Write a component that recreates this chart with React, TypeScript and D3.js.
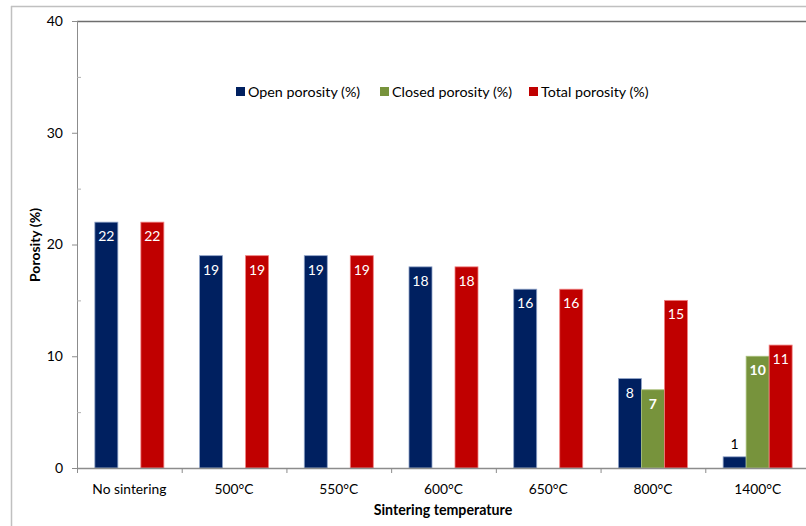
import React from "react";
import * as d3 from "d3";

const categories = ["No sintering", "500°C", "550°C", "600°C", "650°C", "800°C", "1400°C"];
const openPorosity: (number | null)[] = [22, 19, 19, 18, 16, 8, 1];
const closedPorosity: (number | null)[] = [null, null, null, null, null, 7, 10];
const totalPorosity: (number | null)[] = [22, 19, 19, 18, 16, 15, 11];
const seriesNames = ["Open porosity (%)", "Closed porosity (%)", "Total porosity (%)"];
const seriesColors = ["#002060", "#77933C", "#C00000"];
const seriesStrokes = ["#8fa3c8", "#a9c07a", "#f08080"];
const seriesBold = [false, true, false];
const yTicks = [0, 10, 20, 30, 40];

const W = 806;
const H = 526;
const left = 77;
const top = 21;
const bottom = 468;
const right = 810;

export default function App() {
  const seriesValues = [openPorosity, closedPorosity, totalPorosity];
  const x = d3.scaleBand<string>().domain(categories).range([left, right]).paddingInner(0).paddingOuter(0);
  const xs = d3
    .scaleBand<string>()
    .domain(seriesNames)
    .range([0, x.bandwidth()])
    .paddingInner(0)
    .paddingOuter(0.776);
  const y = d3.scaleLinear().domain([0, 40]).range([bottom, top]);
  const minorTicks = d3.range(5, 40, 10);
  const font = "Lato, 'Open Sans', sans-serif";

  const legendItems = [
    { x: 236, name: seriesNames[0], color: seriesColors[0] },
    { x: 380, name: seriesNames[1], color: seriesColors[1] },
    { x: 529, name: seriesNames[2], color: seriesColors[2] },
  ];

  return (
    <svg
      width={W}
      height={H}
      style={{ position: "absolute", left: 0, top: 0, background: "#fff" }}
      fontFamily={font}
    >
      <rect x={0} y={0} width={W} height={H} fill="#fff" />
      {/* outer chart frame */}
      <line x1={11.5} y1={6} x2={11.5} y2={H} stroke="#c0c0c0" strokeWidth={1.5} />
      <line x1={11} y1={6.5} x2={W} y2={6.5} stroke="#c0c0c0" strokeWidth={1.5} />
      {/* plot frame top */}
      <line x1={left} y1={top + 0.5} x2={W} y2={top + 0.5} stroke="#6e6e6e" strokeWidth={1.3} />
      {/* y axis */}
      <line x1={left + 0.5} y1={top} x2={left + 0.5} y2={bottom} stroke="#8c8c8c" strokeWidth={1} />
      {yTicks.map((t) => (
        <g key={"yt" + t}>
          <line x1={left - 5} x2={left} y1={y(t) + 0.5} y2={y(t) + 0.5} stroke="#8c8c8c" />
          <text x={63} y={y(t)} dy="0.35em" textAnchor="end" fontSize={14} fill="#000">
            {t}
          </text>
        </g>
      ))}
      {minorTicks.map((t) => (
        <line key={"ym" + t} x1={left} x2={left + 4} y1={y(t) + 0.5} y2={y(t) + 0.5} stroke="#b0b0b0" />
      ))}
      {/* bars */}
      {categories.map((c, ci) => (
        <g key={c}>
          {seriesValues.map((vals, si) => {
            const v = vals[ci];
            if (v === null || v === undefined) return null;
            const bx = (x(c) as number) + (xs(seriesNames[si]) as number);
            const by = y(v);
            const bh = y(0) - by;
            const small = bh < 20;
            return (
              <g key={si}>
                <rect
                  x={bx}
                  y={by}
                  width={xs.bandwidth()}
                  height={bh}
                  fill={seriesColors[si]}
                  stroke={seriesStrokes[si]}
                  strokeWidth={0.8}
                />
                <text
                  x={bx + xs.bandwidth() / 2}
                  y={small ? by - 13 : by + 14}
                  dy="0.35em"
                  textAnchor="middle"
                  fontSize={14}
                  fontWeight={seriesBold[si] ? "bold" : "normal"}
                  fill={small ? "#000" : "#fff"}
                >
                  {v}
                </text>
              </g>
            );
          })}
        </g>
      ))}
      {/* x axis */}
      <line x1={left} y1={bottom + 0.5} x2={W} y2={bottom + 0.5} stroke="#8c8c8c" strokeWidth={1.5} />
      {categories.map((c, ci) => (
        <g key={"xt" + c}>
          <line
            x1={(x(c) as number) + 0.5}
            x2={(x(c) as number) + 0.5}
            y1={bottom}
            y2={bottom + 5}
            stroke="#8c8c8c"
          />
          <text
            x={(x(c) as number) + x.bandwidth() / 2}
            y={489}
            dy="0.35em"
            textAnchor="middle"
            fontSize={13.8}
            fill="#000"
          >
            {c}
          </text>
        </g>
      ))}
      {/* axis titles */}
      <text
        transform={`translate(35,245) rotate(-90)`}
        textAnchor="middle"
        dy="0.35em"
        fontSize={14}
        fontWeight="bold"
        fill="#000"
      >
        Porosity (%)
      </text>
      <text x={443} y={510} dy="0.35em" textAnchor="middle" fontSize={14.2} fontWeight="bold" fill="#000">
        Sintering temperature
      </text>
      {/* legend */}
      {legendItems.map((it) => (
        <g key={it.name}>
          <rect x={it.x} y={87} width={9} height={9} fill={it.color} />
          <text x={it.x + 12} y={92} dy="0.35em" fontSize={14.3} fill="#000">
            {it.name}
          </text>
        </g>
      ))}
    </svg>
  );
}
